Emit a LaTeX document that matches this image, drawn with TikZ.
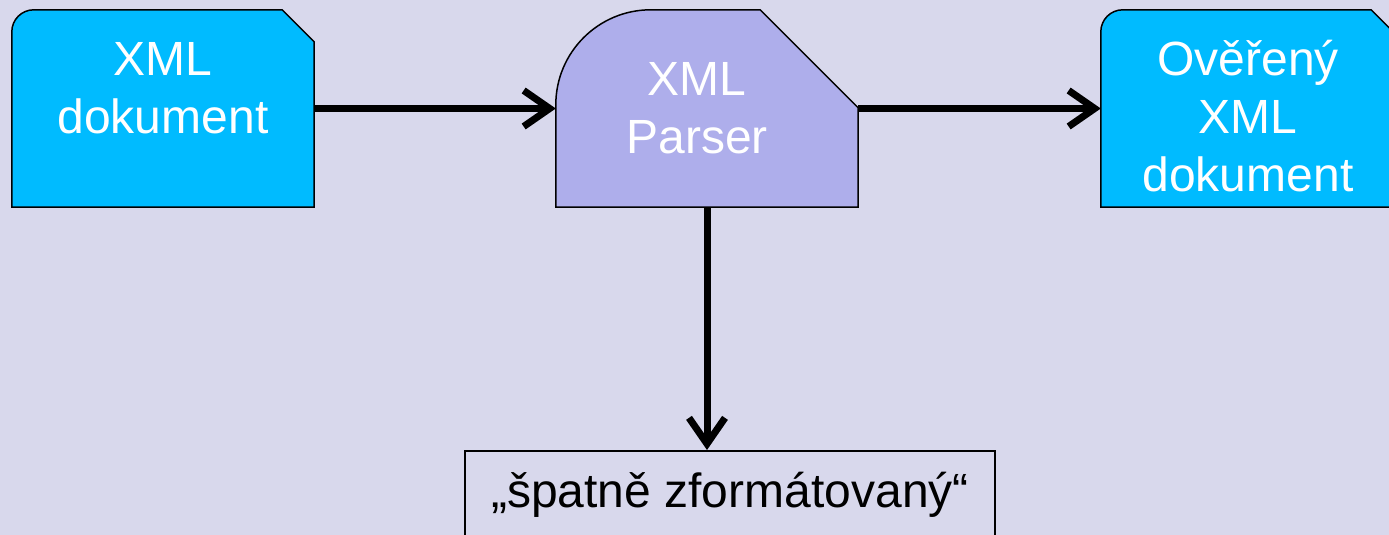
\documentclass[tikz,border=0pt]{standalone}
\usepackage{fontspec}
\setmainfont{Liberation Sans}
\usetikzlibrary{arrows.meta}
\pgfdeclarelayer{background}
\pgfsetlayers{background,main}

\definecolor{pagebg}{RGB}{216,216,236}
\definecolor{docblue}{RGB}{0,187,255}
\definecolor{parserviolet}{RGB}{174,174,235}

\newcommand{\boxlines}[3][0pt]{\parbox[c][197pt][t]{302pt}{\centering\rightskip=#1 plus 1fil\rule{0pt}{#2}#3}}

\begin{document}
\begin{tikzpicture}[x=1pt, y=-1pt,
    docbox/.style={inner sep=0pt, text=white, font=\fontsize{48}{58}\selectfont},
    outline/.style={draw=black, line width=1.5pt},
    flow/.style={line width=7pt, -{Straight Barb[length=26pt, width=36pt]}}]

    \useasboundingbox (0,0) rectangle (1389,535);

    \node[docbox] (xmldoc) at (163,108.5) {\boxlines{65pt}{XML\\dokument}};
    \node[docbox] (parser) at (707,108.5) {\boxlines[20pt]{85pt}{XML\\Parser}};
    \node[docbox] (valid) at (1252,108.5) {\boxlines[8pt]{65pt}{Ověřený\\XML\\dokument}};

    \node[outline, anchor=north, minimum width=530pt, inner sep=22pt,
          text height=35pt, text depth=10pt, font=\fontsize{48}{58}\selectfont]
          (error) at (730,450) {„špatně zformátovaný“};

    \begin{pgfonlayer}{background}
        \fill[pagebg] (0,0) rectangle (1389,535);
        \filldraw[outline, fill=docblue] (xmldoc.south west) [rounded corners=22pt] -- (xmldoc.north west) [sharp corners]
            -- ([xshift=-32pt]xmldoc.north east) -- ([yshift=-32pt]xmldoc.north east) -- (xmldoc.south east) -- cycle;
        \filldraw[outline, fill=parserviolet] (parser.south west) [rounded corners=95pt] -- (parser.north west) [sharp corners]
            -- ([xshift=-98pt]parser.north east) -- ([yshift=-98pt]parser.north east) -- (parser.south east) -- cycle;
        \filldraw[outline, fill=docblue] (valid.south west) [rounded corners=22pt] -- (valid.north west) [sharp corners]
            -- ([xshift=-32pt]valid.north east) -- ([yshift=-32pt]valid.north east) -- (valid.south east) -- cycle;
    \end{pgfonlayer}

    \draw[flow] (xmldoc) -- (parser);
    \draw[flow] (parser) -- (valid);
    \draw[flow] (parser) -- (parser |- error.north);

\end{tikzpicture}
\end{document}
